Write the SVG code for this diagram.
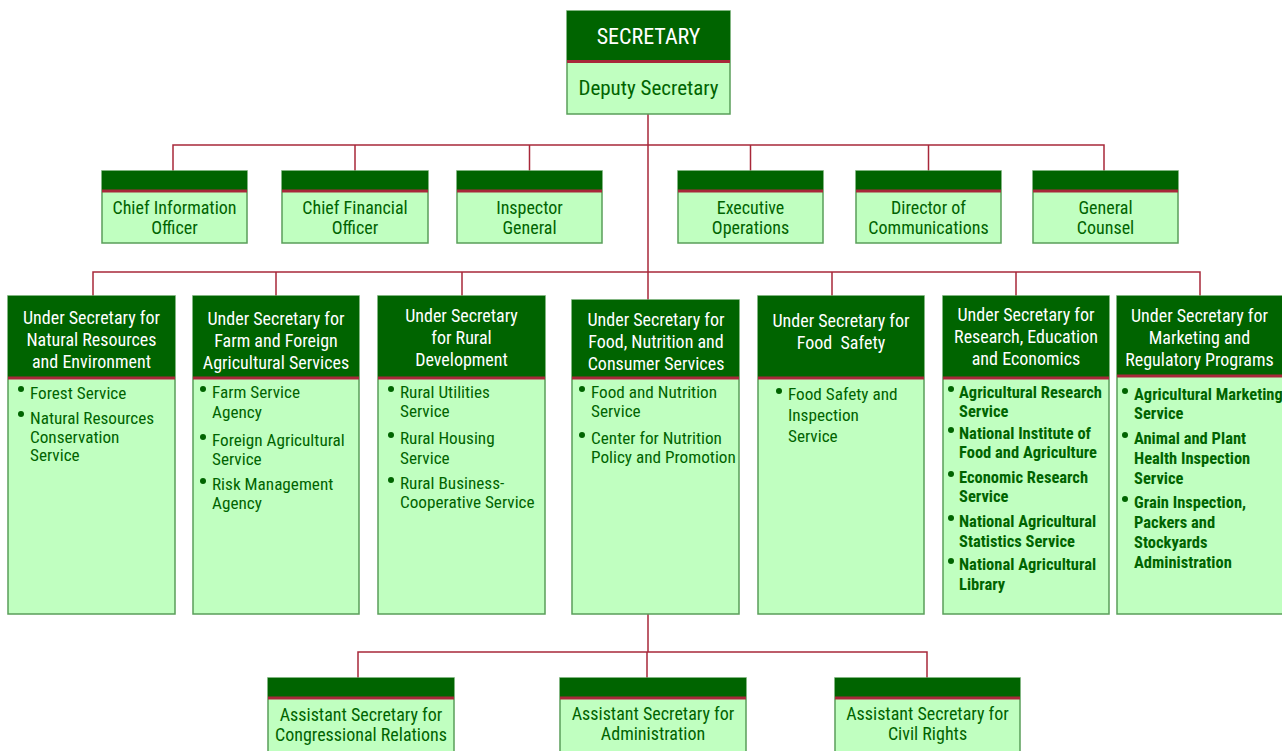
<svg xmlns="http://www.w3.org/2000/svg" width="1282" height="751" viewBox="0 0 1282 751">
<style>
text{font-family:"Liberation Sans Narrow","Arial Narrow","Roboto Condensed","Liberation Sans",sans-serif;}
.hd{fill:#006400;}
.bd{fill:#C0FFC0;stroke:#5a9e5a;stroke-width:1.5;}
.rl{stroke:#A8283A;stroke-width:3;}
.ln{stroke:#A8283A;stroke-width:1.5;fill:none;}
.ht{fill:#ffffff;font-size:18px;text-anchor:middle;}
.st{fill:#006400;font-size:18px;text-anchor:middle;}
.bt{fill:#006400;font-size:17.2px;}
.bb{fill:#006400;font-size:16.5px;font-weight:bold;}
.dot{fill:#006400;}
</style>
<g id="connectors">
<path class="ln" d="M648 114V300M648 614V652"/>
<path class="ln" d="M173 171V145H1104V171M355 145V171M529.5 145V171M750.5 145V171M928.5 145V171"/>
<path class="ln" d="M93 296V272H1200V296M276 272V296M462 272V296M832 272V296M1016 272V296"/>
<path class="ln" d="M358 678V652H927V678M647 652V678"/>
</g>
<g id="secretary">
<rect class="bd" x="567" y="11" width="163" height="103"/>
<rect class="hd" x="567" y="11" width="163" height="50"/>
<line class="rl" x1="567" y1="61.5" x2="730" y2="61.5"/>
<text class="ht" x="648.5" y="44" style="font-size:22px">SECRETARY</text>
<text class="st" x="648.5" y="95" style="font-size:21px">Deputy Secretary</text>
</g>
<g id="cio">
<rect class="bd" x="102" y="171" width="145" height="72"/>
<rect class="hd" x="102" y="171" width="145" height="19"/>
<line class="rl" x1="102" y1="191" x2="247" y2="191"/>
<text class="st" x="174.5" y="214">Chief Information</text>
<text class="st" x="174.5" y="234">Officer</text>
</g>
<g id="cfo">
<rect class="bd" x="282" y="171" width="146" height="72"/>
<rect class="hd" x="282" y="171" width="146" height="19"/>
<line class="rl" x1="282" y1="191" x2="428" y2="191"/>
<text class="st" x="355" y="214">Chief Financial</text>
<text class="st" x="355" y="234">Officer</text>
</g>
<g id="ig">
<rect class="bd" x="457" y="171" width="145" height="72"/>
<rect class="hd" x="457" y="171" width="145" height="19"/>
<line class="rl" x1="457" y1="191" x2="602" y2="191"/>
<text class="st" x="529.5" y="214">Inspector</text>
<text class="st" x="529.5" y="234">General</text>
</g>
<g id="execops">
<rect class="bd" x="678" y="171" width="145" height="72"/>
<rect class="hd" x="678" y="171" width="145" height="19"/>
<line class="rl" x1="678" y1="191" x2="823" y2="191"/>
<text class="st" x="750.5" y="214">Executive</text>
<text class="st" x="750.5" y="234">Operations</text>
</g>
<g id="comms">
<rect class="bd" x="856" y="171" width="145" height="72"/>
<rect class="hd" x="856" y="171" width="145" height="19"/>
<line class="rl" x1="856" y1="191" x2="1001" y2="191"/>
<text class="st" x="928.5" y="214">Director of</text>
<text class="st" x="928.5" y="234">Communications</text>
</g>
<g id="counsel">
<rect class="bd" x="1033" y="171" width="145" height="72"/>
<rect class="hd" x="1033" y="171" width="145" height="19"/>
<line class="rl" x1="1033" y1="191" x2="1178" y2="191"/>
<text class="st" x="1105.5" y="214">General</text>
<text class="st" x="1105.5" y="234">Counsel</text>
</g>
<g id="us-nre">
<rect class="bd" x="8" y="296" width="167" height="318"/>
<rect class="hd" x="8" y="296" width="167" height="81"/>
<line class="rl" x1="8" y1="378" x2="175" y2="378"/>
<text class="ht" x="91.5" y="324">Under Secretary for</text>
<text class="ht" x="91.5" y="346">Natural Resources</text>
<text class="ht" x="91.5" y="368">and Environment</text>
<circle class="dot" cx="21" cy="389" r="3"/><text class="bt" x="30" y="399">Forest Service</text>
<circle class="dot" cx="21" cy="414" r="3"/><text class="bt" x="30" y="424">Natural Resources</text>
<text class="bt" x="30" y="443">Conservation</text>
<text class="bt" x="30" y="461">Service</text>
</g>
<g id="us-ffas">
<rect class="bd" x="193" y="296" width="166" height="318"/>
<rect class="hd" x="193" y="296" width="166" height="81"/>
<line class="rl" x1="193" y1="378" x2="359" y2="378"/>
<text class="ht" x="276" y="325">Under Secretary for</text>
<text class="ht" x="276" y="347">Farm and Foreign</text>
<text class="ht" x="276" y="369">Agricultural Services</text>
<circle class="dot" cx="203" cy="389" r="3"/><text class="bt" x="212" y="398">Farm Service</text>
<text class="bt" x="212" y="418">Agency</text>
<circle class="dot" cx="203" cy="437" r="3"/><text class="bt" x="212" y="446">Foreign Agricultural</text>
<text class="bt" x="212" y="465">Service</text>
<circle class="dot" cx="203" cy="481" r="3"/><text class="bt" x="212" y="490">Risk Management</text>
<text class="bt" x="212" y="509">Agency</text>
</g>
<g id="us-rd">
<rect class="bd" x="378" y="296" width="167" height="318"/>
<rect class="hd" x="378" y="296" width="167" height="81"/>
<line class="rl" x1="378" y1="378" x2="545" y2="378"/>
<text class="ht" x="461.5" y="322">Under Secretary</text>
<text class="ht" x="461.5" y="344">for Rural</text>
<text class="ht" x="461.5" y="366">Development</text>
<circle class="dot" cx="391" cy="389" r="3"/><text class="bt" x="400" y="398">Rural Utilities</text>
<text class="bt" x="400" y="417">Service</text>
<circle class="dot" cx="391" cy="435" r="3"/><text class="bt" x="400" y="444">Rural Housing</text>
<text class="bt" x="400" y="464">Service</text>
<circle class="dot" cx="391" cy="480" r="3"/><text class="bt" x="400" y="489">Rural Business-</text>
<text class="bt" x="400" y="508">Cooperative Service</text>
</g>
<g id="us-fncs">
<rect class="bd" x="572" y="300" width="167" height="314"/>
<rect class="hd" x="572" y="300" width="167" height="77"/>
<line class="rl" x1="572" y1="378" x2="739" y2="378"/>
<text class="ht" x="656" y="326">Under Secretary for</text>
<text class="ht" x="656" y="348">Food, Nutrition and</text>
<text class="ht" x="656" y="370">Consumer Services</text>
<circle class="dot" cx="582" cy="389" r="3"/><text class="bt" x="591" y="398">Food and Nutrition</text>
<text class="bt" x="591" y="417">Service</text>
<circle class="dot" cx="582" cy="435" r="3"/><text class="bt" x="591" y="444">Center for Nutrition</text>
<text class="bt" x="591" y="463">Policy and Promotion</text>
</g>
<g id="us-fs">
<rect class="bd" x="758" y="296" width="166" height="318"/>
<rect class="hd" x="758" y="296" width="166" height="81"/>
<line class="rl" x1="758" y1="378" x2="924" y2="378"/>
<text class="ht" x="841" y="327">Under Secretary for</text>
<text class="ht" x="841" y="349" style="white-space:pre">Food  Safety</text>
<circle class="dot" cx="779" cy="391" r="3"/><text class="bt" x="788" y="400">Food Safety and</text>
<text class="bt" x="788" y="421">Inspection</text>
<text class="bt" x="788" y="442">Service</text>
</g>
<g id="us-ree">
<rect class="bd" x="943" y="296" width="166" height="318"/>
<rect class="hd" x="943" y="296" width="166" height="81"/>
<line class="rl" x1="943" y1="378" x2="1109" y2="378"/>
<text class="ht" x="1026" y="321">Under Secretary for</text>
<text class="ht" x="1026" y="343">Research, Education</text>
<text class="ht" x="1026" y="365">and Economics</text>
<circle class="dot" cx="951" cy="389" r="3"/><text class="bb" x="959" y="398">Agricultural Research</text>
<text class="bb" x="959" y="417">Service</text>
<circle class="dot" cx="951" cy="430" r="3"/><text class="bb" x="959" y="439">National Institute of</text>
<text class="bb" x="959" y="458">Food and Agriculture</text>
<circle class="dot" cx="951" cy="474" r="3"/><text class="bb" x="959" y="483">Economic Research</text>
<text class="bb" x="959" y="502">Service</text>
<circle class="dot" cx="951" cy="518" r="3"/><text class="bb" x="959" y="527">National Agricultural</text>
<text class="bb" x="959" y="547">Statistics Service</text>
<circle class="dot" cx="951" cy="561" r="3"/><text class="bb" x="959" y="570">National Agricultural</text>
<text class="bb" x="959" y="590">Library</text>
</g>
<g id="us-mrp">
<rect class="bd" x="1117" y="296" width="170" height="318"/>
<rect class="hd" x="1117" y="296" width="170" height="79"/>
<line class="rl" x1="1117" y1="376" x2="1287" y2="376"/>
<text class="ht" x="1199.5" y="322">Under Secretary for</text>
<text class="ht" x="1199.5" y="344">Marketing and</text>
<text class="ht" x="1199.5" y="366">Regulatory Programs</text>
<circle class="dot" cx="1125" cy="391" r="3"/><text class="bb" x="1134" y="400">Agricultural Marketing</text>
<text class="bb" x="1134" y="419">Service</text>
<circle class="dot" cx="1125" cy="435" r="3"/><text class="bb" x="1134" y="444">Animal and Plant</text>
<text class="bb" x="1134" y="464">Health Inspection</text>
<text class="bb" x="1134" y="484">Service</text>
<circle class="dot" cx="1125" cy="499" r="3"/><text class="bb" x="1134" y="508">Grain Inspection,</text>
<text class="bb" x="1134" y="528">Packers and</text>
<text class="bb" x="1134" y="548">Stockyards</text>
<text class="bb" x="1134" y="568">Administration</text>
</g>
<g id="as-cr">
<rect class="bd" x="268" y="678" width="186" height="76"/>
<rect class="hd" x="268" y="678" width="186" height="19"/>
<line class="rl" x1="268" y1="698" x2="454" y2="698"/>
<text class="st" x="361" y="721">Assistant Secretary for</text>
<text class="st" x="361" y="741">Congressional Relations</text>
</g>
<g id="as-admin">
<rect class="bd" x="560" y="678" width="186" height="76"/>
<rect class="hd" x="560" y="678" width="186" height="19"/>
<line class="rl" x1="560" y1="698" x2="746" y2="698"/>
<text class="st" x="653" y="720">Assistant Secretary for</text>
<text class="st" x="653" y="740">Administration</text>
</g>
<g id="as-civil">
<rect class="bd" x="835" y="678" width="185" height="76"/>
<rect class="hd" x="835" y="678" width="185" height="19"/>
<line class="rl" x1="835" y1="698" x2="1020" y2="698"/>
<text class="st" x="927.5" y="720">Assistant Secretary for</text>
<text class="st" x="927.5" y="740">Civil Rights</text>
</g>
</svg>
